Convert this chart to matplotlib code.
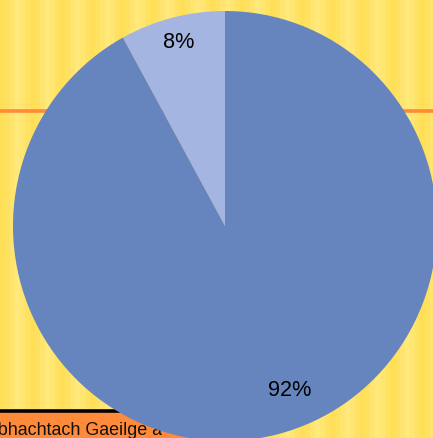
import matplotlib.pyplot as plt
import numpy as np

# pie data
shares = [8, 92]
colors = ['#A3B5E0', '#6685BE']
label_text = "Tábhachtach Gaeilge a"

# background stripe shades (one per 5 px column band)
stripe_colors = ['#FFDF58', '#FFE162', '#FFE56F', '#FFE87C', '#FFE670', '#FFE264']

W, H = 433, 439
fig = plt.figure(figsize=(W / 100, H / 100), dpi=100)

bg = fig.add_axes([0, 0, 1, 1])
bg.set_xlim(0, W)
bg.set_ylim(H, 0)
bg.axis('off')
bg.set_zorder(0)

# vertical stripes
band = 5
x = 0
i = 0
while x < W:
    bg.axvspan(x, x + band, color=stripe_colors[i % len(stripe_colors)], lw=0)
    x += band
    i += 1

# orange rule behind the pie
bg.axhline(111.5, color='#FF8A3A', lw=2.6)
# bottom-left orange band with black rule (its right end is under the pie)
bg.fill_between([0, 225], 413.5, H, color='#FF8A3A', lw=0)
bg.plot([0, 225], [412.5, 412.5], color='black', lw=2.6, solid_capstyle='butt')
bg.text(-23, 435, label_text, fontsize=12.9, family='Liberation Sans',
        va='baseline', ha='left', color='#111111')

# pie (slightly taller than wide, as in the reference)
a, b = 212, 215
cx, cy = 225, 227
ax = fig.add_axes([(cx - a) / W, (H - cy - b) / H, 2 * a / W, 2 * b / H])
ax.set_zorder(2)
ax.patch.set_alpha(0)
wedges, texts, autotexts = ax.pie(shares, colors=colors, startangle=90,
                                  counterclock=True, autopct='%1.0f%%',
                                  pctdistance=0.887, radius=1,
                                  textprops={'fontsize': 15.6, 'family': 'Liberation Sans',
                                             'color': 'black'},
                                  wedgeprops={'linewidth': 0})
# nudge big-slice label to where it sits in the reference
ang = np.deg2rad(292)
autotexts[1].set_position((0.818 * np.cos(ang), 0.818 * np.sin(ang)))
ax.set_xlim(-1, 1)
ax.set_ylim(-1, 1)
ax.set_aspect('auto')
ax.axis('off')

fig.savefig('out.png', dpi=100)
